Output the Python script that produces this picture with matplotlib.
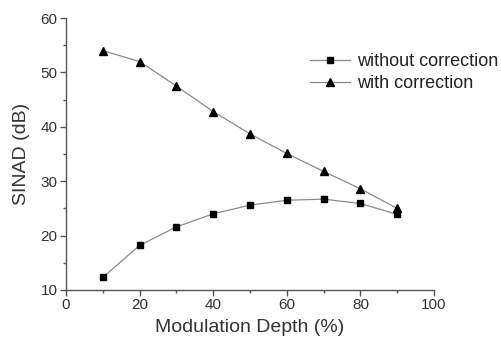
import matplotlib
matplotlib.use("Agg")
import matplotlib.pyplot as plt
from matplotlib.ticker import MultipleLocator

plt.rcParams['font.family'] = ['Liberation Sans', 'DejaVu Sans']

depth = [10, 20, 30, 40, 50, 60, 70, 80, 90]
without_corr = [12.3, 18.2, 21.6, 24.0, 25.6, 26.5, 26.7, 25.9, 23.9]
with_corr = [54.0, 52.0, 47.5, 42.8, 38.7, 35.1, 31.8, 28.6, 25.0]

fig = plt.figure(figsize=(5.01, 3.47), dpi=100)
ax = fig.add_axes([0.1317, 0.1643, 0.7346, 0.7838])

line_kw = dict(color='#8a8a8a', linewidth=0.9, markerfacecolor='black',
               markeredgecolor='black')
ax.plot(depth, without_corr, marker='s', markersize=4.6,
        label='without correction', **line_kw)
ax.plot(depth, with_corr, marker='^', markersize=5.5,
        label='with correction', **line_kw)

ax.set_xlim(0, 100)
ax.set_ylim(10, 60)
ax.xaxis.set_major_locator(MultipleLocator(20))
ax.xaxis.set_minor_locator(MultipleLocator(10))
ax.yaxis.set_major_locator(MultipleLocator(10))
ax.yaxis.set_minor_locator(MultipleLocator(5))

for side in ('top', 'right'):
    ax.spines[side].set_visible(False)
for side in ('left', 'bottom'):
    ax.spines[side].set_color('#555555')
    ax.spines[side].set_linewidth(1.0)

ax.tick_params(which='major', direction='out', length=4, width=1.0,
               color='#555555', labelsize=11, labelcolor='#333333', pad=2)
ax.tick_params(which='minor', direction='out', length=2.5, width=1.0,
               color='#555555')

ax.set_xlabel('Modulation Depth (%)', fontsize=14, color='#333333', labelpad=5)
ax.set_ylabel('SINAD (dB)', fontsize=14, color='#333333', labelpad=8)

leg = ax.legend(loc='upper left', bbox_to_anchor=(0.619, 0.846),
                bbox_transform=fig.transFigure, frameon=False,
                fontsize=13, handlelength=2.2, handletextpad=0.4,
                labelspacing=0.25, borderaxespad=0, borderpad=0)
for t in leg.get_texts():
    t.set_color('#222222')

fig.savefig('out.png', dpi=100)
